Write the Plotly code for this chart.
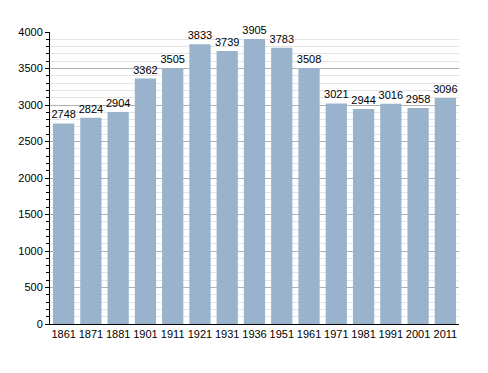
import plotly.graph_objects as go

years = ["1861", "1871", "1881", "1901", "1911", "1921", "1931", "1936", "1951", "1961", "1971", "1981", "1991", "2001", "2011"]
population = [2748, 2824, 2904, 3362, 3505, 3833, 3739, 3905, 3783, 3508, 3021, 2944, 3016, 2958, 3096]

fig = go.Figure(go.Bar(
    x=years, y=population,
    text=[str(v) for v in population],
    textposition="outside",
    constraintext="none",
    textfont=dict(family="Liberation Sans, Arial", size=11, color="black"),
    marker=dict(color="#99b3cd", line=dict(width=0)),
    cliponaxis=False,
))
fig.update_layout(
    width=480, height=365,
    margin=dict(l=42, r=29, t=24, b=49, autoexpand=False),
    paper_bgcolor="white", plot_bgcolor="white",
    bargap=0.22,
    showlegend=False,
    font=dict(family="Liberation Sans, Arial", size=11, color="black"),
)
fig.update_xaxes(
    type="category", showline=True, linecolor="black", linewidth=1,
    ticks="", showgrid=False, tickfont=dict(size=11), automargin=False,
)
fig.update_yaxes(
    range=[0, 4000], dtick=500, showline=True, linecolor="black", linewidth=1,
    ticks="outside", ticklen=4, tickcolor="black",
    showgrid=True, gridcolor="#b0b0b0", gridwidth=1,
    zeroline=False, automargin=False,
    minor=dict(dtick=100, showgrid=True, gridcolor="#e4e4e4", ticks="outside", ticklen=3, tickcolor="black"),
    tickfont=dict(size=11),
)
fig.write_html("out.html")
